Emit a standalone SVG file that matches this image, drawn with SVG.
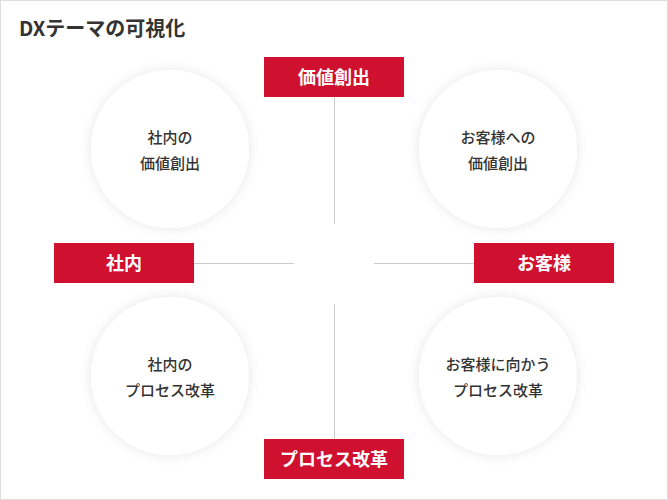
<svg xmlns="http://www.w3.org/2000/svg" width="668" height="500" viewBox="0 0 668 500">
<defs>
<filter id="sh" x="-30%" y="-30%" width="160%" height="160%">
<feDropShadow dx="0" dy="0" stdDeviation="6" flood-color="#000" flood-opacity="0.1"/>
</filter>
<style>
text{font-family:"Noto Sans CJK JP","Noto Sans",sans-serif;}
.title{font-size:20px;font-weight:bold;fill:#333;}
.circ{fill:#fff;filter:url(#sh);}
.ct{font-size:15px;font-weight:500;fill:#333;text-anchor:middle;}
.box{fill:#cf102e;}
.bt{font-size:18px;font-weight:bold;fill:#fff;text-anchor:middle;}
.ln{stroke:#ccc;stroke-width:1;fill:none;}
</style>
</defs>
<rect x="0" y="0" width="668" height="500" fill="#fff"/>
<rect x="0.5" y="0.5" width="667" height="499" fill="none" stroke="#ddd"/>
<text class="title" x="19" y="36">DXテーマの可視化</text>
<g id="connectors">
<line class="ln" x1="334.5" y1="97" x2="334.5" y2="224"/>
<line class="ln" x1="334.5" y1="304" x2="334.5" y2="439"/>
<line class="ln" x1="194" y1="263.5" x2="294" y2="263.5"/>
<line class="ln" x1="374" y1="263.5" x2="474" y2="263.5"/>
</g>
<g id="c-tl"><circle class="circ" cx="170" cy="149" r="79"/><text class="ct" x="170" y="143">社内の</text><text class="ct" x="170" y="169">価値創出</text></g>
<g id="c-tr"><circle class="circ" cx="498" cy="149" r="79"/><text class="ct" x="498" y="143">お客様への</text><text class="ct" x="498" y="169">価値創出</text></g>
<g id="c-bl"><circle class="circ" cx="170" cy="376" r="79"/><text class="ct" x="170" y="370">社内の</text><text class="ct" x="170" y="396">プロセス改革</text></g>
<g id="c-br"><circle class="circ" cx="498" cy="376" r="79"/><text class="ct" x="498" y="370">お客様に向かう</text><text class="ct" x="498" y="396">プロセス改革</text></g>
<g id="b-top"><rect class="box" x="264" y="57" width="140" height="40"/><text class="bt" x="334" y="84">価値創出</text></g>
<g id="b-left"><rect class="box" x="54" y="243" width="140" height="40"/><text class="bt" x="124" y="270">社内</text></g>
<g id="b-right"><rect class="box" x="474" y="243" width="140" height="40"/><text class="bt" x="544" y="270">お客様</text></g>
<g id="b-bottom"><rect class="box" x="264" y="439" width="140" height="40"/><text class="bt" x="334" y="466">プロセス改革</text></g>
</svg>
